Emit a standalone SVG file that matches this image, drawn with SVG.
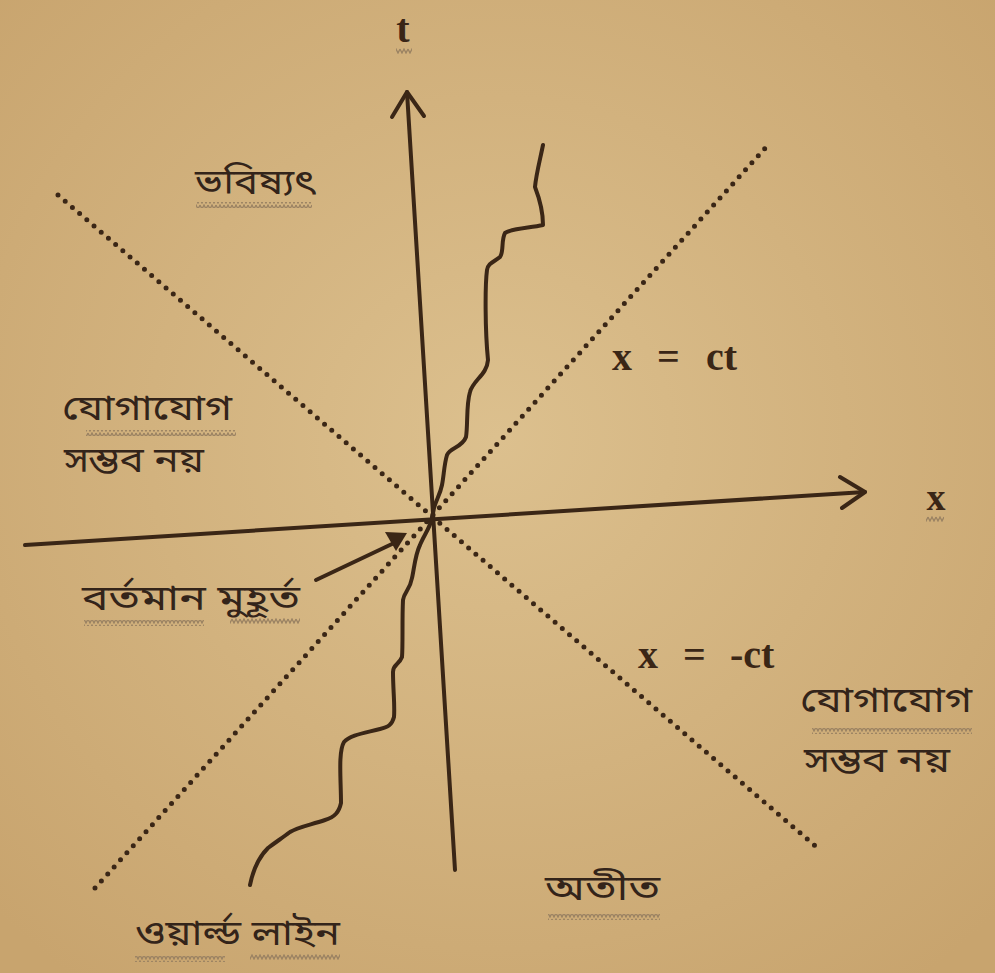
<svg xmlns="http://www.w3.org/2000/svg" width="995" height="973" viewBox="0 0 995 973">
<defs>
<radialGradient id="bg" cx="50%" cy="45%" r="70%">
<stop offset="0" stop-color="#dcc08e"/>
<stop offset="1" stop-color="#c8a46e"/>
</radialGradient>
<pattern id="wave" width="8" height="6" patternUnits="userSpaceOnUse">
<polyline points="0,1 2,5 4,1 6,5 8,1" fill="none" stroke="#9a8262" stroke-width="1.3"/>
</pattern>
</defs>
<style>
.ax{fill:none;stroke:#3a2616;stroke-width:4;stroke-linecap:round;stroke-linejoin:round}
.dot{fill:none;stroke:#3a2616;stroke-width:5;stroke-linecap:round;stroke-dasharray:0 9.5}
.wl{fill:none;stroke:#3a2616;stroke-width:4;stroke-linecap:round;stroke-linejoin:round}
.bn{font-family:"Noto Sans Bengali","Noto Serif Bengali","Lohit Bengali","Mukti","Vrinda",sans-serif;font-size:35px;fill:#33241a}
.mt{font-family:"Liberation Serif","Times New Roman",serif;font-weight:bold;fill:#3a2616}
.sq{fill:url(#wave)}
</style>
<rect width="995" height="973" fill="url(#bg)"/>

<g id="connectors">
<line class="dot" x1="95" y1="888" x2="768" y2="145"/>
<line class="dot" x1="58" y1="195" x2="820" y2="850"/>
<line class="ax" x1="455" y1="870" x2="407" y2="92"/>
<polyline class="ax" points="392,117 407,92 424,116"/>
<line class="ax" x1="25" y1="545" x2="865" y2="492"/>
<polyline class="ax" points="840,477 865,492 842,508"/>
<path class="wl" d="M543,145 C540,160 536,175 535,187 C540,200 543,212 543,225 C530,228 512,228 505,233 C501,240 504,252 500,257 C494,262 488,263 487,270 C485,285 485,330 488,360 C487,375 473,380 470,392 C466,405 468,425 466,437 C462,448 450,447 447,455 C444,465 444,475 442,485 C440,495 436,500 434,508 L432,518 C430,528 424,535 420,545 C415,555 414,570 412,578 C410,590 404,592 403,600 C402,620 403,645 402,657 C399,665 393,664 393,672 C393,690 395,705 394,717 C392,725 388,727 380,729 C365,733 350,735 344,742 C338,752 341,780 341,803 C339,812 335,817 325,820 C310,825 298,827 290,832 C282,838 276,842 268,848 C258,858 253,870 250,885"/>
<line class="ax" x1="316" y1="580" x2="392" y2="544" stroke-width="3"/>
<polygon points="385,532 407,533 396,551" fill="#3a2616"/>
</g>

<g id="label-t"><text class="mt" x="403" y="42" font-size="40" text-anchor="middle">t</text><rect class="sq" x="396" y="48" width="16" height="6"/></g>
<g id="label-x"><text class="mt" x="936" y="510" font-size="38" font-weight="normal" text-anchor="middle">x</text><rect class="sq" x="926" y="516" width="18" height="6"/></g>
<g id="label-xct"><text class="mt" y="370" font-size="40"><tspan x="612">x</tspan><tspan x="657">=</tspan><tspan x="706">ct</tspan></text></g>
<g id="label-xmct"><text class="mt" y="668" font-size="40"><tspan x="638">x</tspan><tspan x="683">=</tspan><tspan x="730">-ct</tspan></text></g>

<g id="future"><text class="bn" x="195" y="194" textLength="120" lengthAdjust="spacingAndGlyphs">ভবিষ্যৎ</text><rect class="sq" x="196" y="202" width="116" height="6"/></g>
<g id="no-comm-left"><text class="bn" x="62" y="420" textLength="170" lengthAdjust="spacingAndGlyphs">যোগাযোগ</text><rect class="sq" x="86" y="430" width="150" height="6"/><text class="bn" x="64" y="472" textLength="140" lengthAdjust="spacingAndGlyphs">সম্ভব নয়</text></g>
<g id="present"><text class="bn" x="82" y="610" textLength="218" lengthAdjust="spacingAndGlyphs">বর্তমান মুহূর্ত</text><rect class="sq" x="84" y="620" width="120" height="6"/><rect class="sq" x="230" y="618" width="70" height="6"/></g>
<g id="no-comm-right"><text class="bn" x="800" y="712" textLength="172" lengthAdjust="spacingAndGlyphs">যোগাযোগ</text><rect class="sq" x="812" y="728" width="160" height="6"/><text class="bn" x="804" y="772" textLength="146" lengthAdjust="spacingAndGlyphs">সম্ভব নয়</text></g>
<g id="past"><text class="bn" x="545" y="900" textLength="115" lengthAdjust="spacingAndGlyphs">অতীত</text><rect class="sq" x="548" y="914" width="112" height="6"/></g>
<g id="worldline-label"><text class="bn" x="135" y="945" textLength="205" lengthAdjust="spacingAndGlyphs">ওয়ার্ল্ড লাইন</text><rect class="sq" x="135" y="956" width="90" height="6"/><rect class="sq" x="250" y="954" width="90" height="6"/></g>
</svg>
